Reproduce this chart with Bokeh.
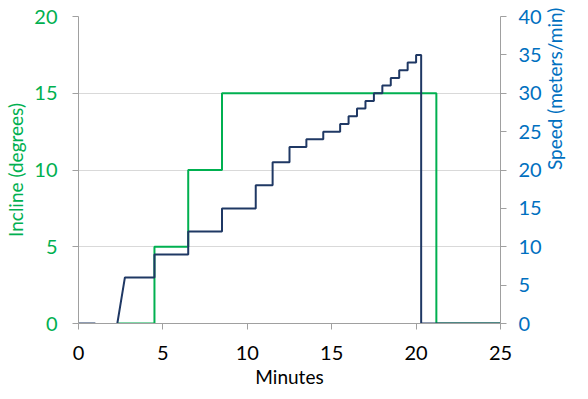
import math
from bokeh.plotting import figure
from bokeh.models import Range1d, LinearAxis, FixedTicker
from bokeh.embed import file_html
from bokeh.resources import INLINE

# ---- data (minutes) ----
speed_idle_min = [0, 1]
speed_idle_val = [0, 0]
speed_start_min = 2.3
speed_change_min = [2.75, 4.5, 6.5, 8.5, 10.5, 11.5, 12.5, 13.5, 14.5, 15.5,
                    16.0, 16.5, 17.0, 17.5, 18.0, 18.5, 19.0, 19.5, 20.0, 20.3]
speed_level = [6, 9, 12, 15, 18, 21, 23, 24, 25, 26,
               27, 28, 29, 30, 31, 32, 33, 34, 35, 0]
incline_start_min = 2.3
incline_change_min = [4.5, 6.5, 8.5, 21.2]
incline_level = [5, 10, 15, 0]
end_min = 25

x_ticks = [0, 5, 10, 15, 20, 25]
incline_ticks = [0, 5, 10, 15, 20]
speed_ticks = [0, 5, 10, 15, 20, 25, 30, 35, 40]

GREEN = "#00B050"
NAVY = "#1F3864"
BLUE = "#0070C0"
AXIS = "#A0A0A0"
FONT = "Lato"
FS = "20px"
TFS = "19px"


def step_points(start, changes, levels, end, ramp_first=False):
    xs, ys = [start], [0]
    cur = 0
    for i, (t, lv) in enumerate(zip(changes, levels)):
        if ramp_first and i == 0:
            xs.append(t); ys.append(lv)
        else:
            xs += [t, t]; ys += [cur, lv]
        cur = lv
    xs.append(end); ys.append(cur)
    return xs, ys


p = figure(width=580, height=391, x_range=Range1d(0, 25), y_range=Range1d(0, 20),
           output_backend="svg", toolbar_location=None,
           min_border_left=78, min_border_right=66, min_border_top=16, min_border_bottom=68)
p.extra_y_ranges = {"speed": Range1d(0, 40)}
p.outline_line_color = None
p.background_fill_color = "white"
p.border_fill_color = "white"

p.xgrid.grid_line_color = None
p.ygrid.grid_line_color = "#D9D9D9"
p.ygrid.grid_line_width = 1

# incline (left)
ix, iy = step_points(incline_start_min, incline_change_min, incline_level, end_min)
p.line(ix, iy, line_color=GREEN, line_width=2)

# speed (right)
p.line(speed_idle_min, [v for v in speed_idle_val], line_color=NAVY, line_width=2,
       y_range_name="speed")
sx, sy = step_points(speed_start_min, speed_change_min, speed_level, end_min, ramp_first=True)
p.line(sx, sy, line_color=NAVY, line_width=2, y_range_name="speed")

# x axis
xa = p.xaxis[0]
xa.ticker = FixedTicker(ticks=x_ticks)
xa.axis_label = "Minutes"

# left axis
ya = p.yaxis[0]
ya.ticker = FixedTicker(ticks=incline_ticks)
ya.axis_label = "Incline (degrees)"
ya.major_label_text_color = GREEN
ya.axis_label_text_color = GREEN

# right axis
ra = LinearAxis(y_range_name="speed", ticker=FixedTicker(ticks=speed_ticks),
                axis_label="Speed (meters/min)")
ra.major_label_text_color = BLUE
ra.axis_label_text_color = BLUE
p.add_layout(ra, "right")

for ax in [xa, ya, ra]:
    ax.axis_line_color = AXIS
    ax.major_tick_line_color = AXIS
    ax.major_tick_out = 6
    ax.major_tick_in = 0
    ax.minor_tick_line_color = None
    ax.major_label_text_font = FONT
    ax.major_label_text_font_size = FS
    ax.axis_label_text_font = FONT
    ax.axis_label_text_font_size = TFS
    ax.axis_label_text_font_style = "normal"
xa.major_label_standoff = 16
xa.axis_label_standoff = 2
xa.major_label_text_color = "black"
xa.axis_label_text_color = "black"
ya.major_label_standoff = 15
ya.axis_label_standoff = 4
ra.major_label_standoff = 12
# bottom-to-top title on the right axis
ra.axis_label_orientation = math.pi / 2
ra.axis_label_text_line_height = 0.5
ra.axis_label_standoff = 10

open("out.html", "w").write(file_html(p, INLINE))
